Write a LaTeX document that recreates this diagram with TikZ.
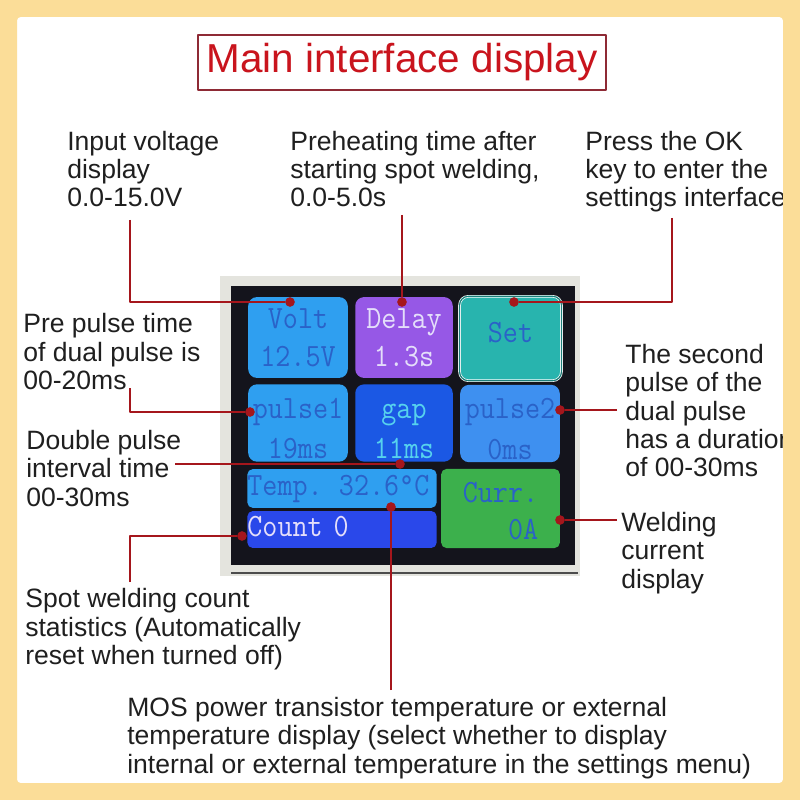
\documentclass[tikz,border=0pt]{standalone}
\usepackage{fontspec}
\setmainfont{Liberation Sans}
\newfontfamily\lcdfont[FakeStretch=0.9]{Latin Modern Mono}
\definecolor{edgeorange}{HTML}{FBDD98}
\definecolor{leadred}{HTML}{A5161C}
\definecolor{titlered}{HTML}{C9141D}
\definecolor{titlebox}{HTML}{8E2A35}
\definecolor{bezel}{HTML}{E4E4DE}
\definecolor{screenblack}{HTML}{14141C}
\definecolor{voltblue}{HTML}{2F9FF0}
\definecolor{delayviolet}{HTML}{9658E6}
\definecolor{setteal}{HTML}{28B4AE}
\definecolor{gapblue}{HTML}{1B58E4}
\definecolor{pulseblue}{HTML}{3E90F0}
\definecolor{countblue}{HTML}{2A48EA}
\definecolor{currgreen}{HTML}{3CB04C}
\definecolor{inkblue}{HTML}{2A62C8}
\definecolor{inkpale}{HTML}{E4DEFA}
\definecolor{inkcyan}{HTML}{56D2EE}
\def\lowline{\rule{0pt}{17.8pt}}
\tikzset{
	caption/.style={anchor=north west, align=left, inner sep=0pt, font=\fontsize{15.1}{16.2}\selectfont, text=black!88},
	panel/.style={rounded corners=5pt, inner sep=0pt, align=center, font=\lcdfont\fontsize{18.5}{21.5}\selectfont},
	dot/.style={circle, fill=leadred, inner sep=0pt, minimum size=5.5pt},
	lead/.style={draw=leadred, line width=0.75pt}
}
\begin{document}
\begin{tikzpicture}[x=0.02cm,y=-0.02cm, line join=round]
	\useasboundingbox (0,0) rectangle (800,800);
	\fill[white] (0,0) rectangle (800,800);
	\node (title) at (402,62.5) [draw=titlebox, line width=1pt, text=titlered, inner sep=0pt, minimum width=232pt, minimum height=31pt, font=\fontsize{23}{24}\selectfont]{Main interface display};
	\fill[bezel] (220,276) rectangle (580,576);
	\fill[screenblack] (231,286) rectangle (575,565);
	\draw[black!70, line width=0.6pt] (231,573) -- (578,573);
	\node (volt) at (298,337.5) [panel, fill=voltblue, text=inkblue, minimum width=56.7pt, minimum height=46pt]{Volt\\12.5V};
	\node (delay) at (404,337.5) [panel, fill=delayviolet, text=inkpale, minimum width=55.5pt, minimum height=46pt]{Delay\\1.3s};
	\node (set) at (510.5,338.5) [panel, fill=setteal, draw=white, double=setteal!70!black, double distance=0.7pt, text=inkblue, minimum width=58pt, minimum height=48pt]{\raisebox{7.5pt}{Set}};
	\node (pulseone) at (298,423) [panel, fill=voltblue, text=inkblue, minimum width=56.7pt, minimum height=44pt]{\lowline pulse1\\[1.7pt]19ms};
	\node (gap) at (404,423) [panel, fill=gapblue, text=inkcyan, minimum width=55.5pt, minimum height=44pt]{\lowline gap\\[1.7pt]11ms};
	\node (pulsetwo) at (510,423.5) [panel, fill=pulseblue, text=inkblue, minimum width=56.7pt, minimum height=44pt]{\lowline pulse2\\[1.7pt]0ms};
	\node (temp) at (342,488.5) [panel, rounded corners=3pt, fill=voltblue, text=inkblue, text width=107.7pt, align=left, minimum height=22pt]{Temp. 32.6°C};
	\node (count) at (342,529.5) [panel, rounded corners=3pt, fill=countblue, text=inkpale, text width=107.7pt, align=left, minimum height=21pt]{\raisebox{3.5pt}{Count 0}};
	\node (curr) at (500.5,508.5) [panel, rounded corners=3pt, fill=currgreen, text=inkblue, align=right, minimum width=67.5pt, minimum height=45pt]{\rule{0pt}{14.4pt}Curr.\\0A};
	\node (voltcap) at (67,130.5) [caption]{Input voltage\\display\\0.0-15.0V};
	\node (delaycap) at (290,130.5) [caption]{Preheating time after\\starting spot welding,\\0.0-5.0s};
	\node (setcap) at (585,130.5) [caption]{Press the OK\\key to enter the\\settings interface};
	\node (pulseonecap) at (23,313) [caption]{Pre pulse time\\of dual pulse is\\00-20ms};
	\node (gapcap) at (26,429.5) [caption]{Double pulse\\interval time\\00-30ms};
	\node (pulsetwocap) at (625,343.5) [caption]{The second\\pulse of the\\dual pulse\\has a duration\\of 00-30ms};
	\node (currcap) at (621,511.5) [caption]{Welding\\current\\display};
	\node (countcap) at (25,588) [caption]{Spot welding count\\statistics (Automatically\\reset when turned off)};
	\node (tempcap) at (127,696.5) [caption]{MOS power transistor temperature or external\\temperature display (select whether to display\\internal or external temperature in the settings menu)};
	\node (voltdot) at (290,302) [dot]{};
	\node (delaydot) at (402,302) [dot]{};
	\node (setdot) at (514,302) [dot]{};
	\node (pulseonedot) at (250,412) [dot]{};
	\node (gapdot) at (400,464) [dot]{};
	\node (pulsetwodot) at (560,410) [dot]{};
	\node (tempdot) at (391,507) [dot]{};
	\node (countdot) at (242,536) [dot]{};
	\node (currdot) at (560,520) [dot]{};
	\coordinate (voltend) at (130,220);
	\coordinate (delayend) at (402,215);
	\coordinate (setend) at (672,218);
	\coordinate (pulseoneend) at (130,388);
	\coordinate (gapend) at (175,464);
	\coordinate (pulsetwoend) at (617,410);
	\coordinate (tempend) at (391,690);
	\coordinate (countend) at (130,582);
	\coordinate (currend) at (617,520);
	\draw[lead] (voltend) |- (voltdot);
	\draw[lead] (delayend) -- (delaydot);
	\draw[lead] (setend) |- (setdot);
	\draw[lead] (pulseoneend) |- (pulseonedot);
	\draw[lead] (gapend) -- (gapdot);
	\draw[lead] (pulsetwoend) -- (pulsetwodot);
	\draw[lead] (tempend) -- (tempdot);
	\draw[lead] (countend) |- (countdot);
	\draw[lead] (currend) -- (currdot);
	\fill[edgeorange, even odd rule] (0,0) rectangle (800,800) [rounded corners=2pt] (17,17) rectangle (783,783);
\end{tikzpicture}
\end{document}
